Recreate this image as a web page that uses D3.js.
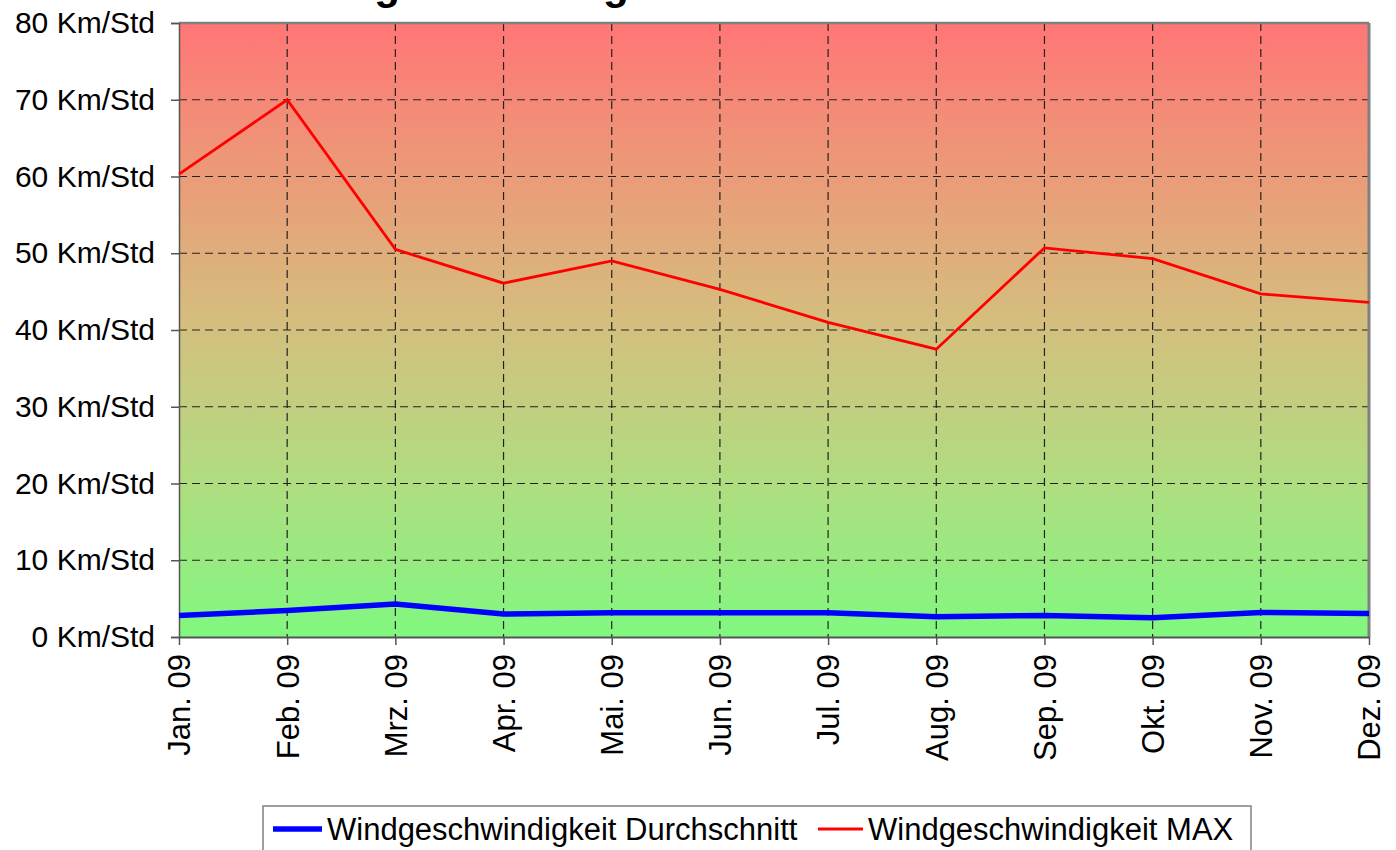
<!DOCTYPE html>
<html>
<head>
<meta charset="utf-8">
<script src="https://cdn.jsdelivr.net/npm/d3@7"></script>
<style>
  html, body { margin: 0; padding: 0; background: #fff; overflow: hidden; }
  text { font-family: "Liberation Sans", Arial, sans-serif; }
</style>
</head>
<body>
<div id="chart"></div>
<script>
// data
const months = ["Jan. 09", "Feb. 09", "Mrz. 09", "Apr. 09", "Mai. 09", "Jun. 09",
  "Jul. 09", "Aug. 09", "Sep. 09", "Okt. 09", "Nov. 09", "Dez. 09"];
const windAvg = [2.8, 3.45, 4.3, 3.0, 3.15, 3.15, 3.15, 2.65, 2.8, 2.5, 3.2, 3.05];
const windMax = [60.3, 70.0, 50.5, 46.1, 49.0, 45.3, 41.0, 37.5, 50.7, 49.3, 44.7, 43.6];
const yTicks = [0, 10, 20, 30, 40, 50, 60, 70, 80];
const seriesNames = ["Windgeschwindigkeit Durchschnitt", "Windgeschwindigkeit MAX"];

function drawWindChart() {
	let width = 1396, height = 850;
	let margin = {left: 179, right: 27, top: 23, bottom: 213};

	let svg = d3.select("#chart")
		.append("svg")
		.attr("width", width)
		.attr("height", height);

	let xScale = d3.scalePoint().domain(months).range([margin.left, width - margin.right]);
	let yScale = d3.scaleLinear().domain([0, 80]).range([height - margin.bottom, margin.top]);

	// background gradient (red at top, green at bottom)
	let grad = svg.append("defs").append("linearGradient")
		.attr("id", "bg").attr("x1", 0).attr("y1", 0).attr("x2", 0).attr("y2", 1);
	[["0%", "#ff7676"], ["25%", "#eb9b78"], ["50%", "#d3c07e"], ["75%", "#afdd80"], ["100%", "#80f880"]]
		.forEach(s => grad.append("stop").attr("offset", s[0]).attr("stop-color", s[1]));

	let x0 = xScale.range()[0], x1 = xScale.range()[1];
	let y0 = yScale(0), y1 = yScale(80);

	svg.append("rect")
		.attr("x", x0).attr("y", y1)
		.attr("width", x1 - x0).attr("height", y0 - y1)
		.attr("fill", "url(#bg)");

	// title, mostly cut off above the page (as in the original)
	svg.append("text")
		.attr("x", 272).attr("y", -1)
		.attr("font-size", 42).attr("font-weight", "bold")
		.text("Windgeschwindigkeit 2009");

	// grid
	svg.append("g").selectAll("line")
		.data(yTicks.filter(d => d > 0 && d < 80))
		.join("line")
		.attr("x1", x0).attr("x2", x1)
		.attr("y1", d => yScale(d)).attr("y2", d => yScale(d))
		.attr("stroke", "#222").attr("stroke-width", 1.2)
		.attr("stroke-dasharray", "8,5");
	svg.append("g").selectAll("line")
		.data(months.slice(1, -1))
		.join("line")
		.attr("x1", d => xScale(d)).attr("x2", d => xScale(d))
		.attr("y1", y1).attr("y2", y0)
		.attr("stroke", "#222").attr("stroke-width", 1.2)
		.attr("stroke-dasharray", "8,5");

	// frame
	svg.append("line").attr("x1", x0).attr("x2", x1).attr("y1", y1).attr("y2", y1)
		.attr("stroke", "#808080").attr("stroke-width", 2.5);
	svg.append("line").attr("x1", x1).attr("x2", x1).attr("y1", y1).attr("y2", y0)
		.attr("stroke", "#808080").attr("stroke-width", 3);

	// axes
	let yAxis = svg.append("g")
		.attr("transform", `translate(${x0},0)`)
		.call(d3.axisLeft(yScale).tickValues(yTicks).tickSize(8).tickPadding(16)
			.tickFormat(d => d + " Km/Std"));
	yAxis.select(".domain").attr("stroke", "#555").attr("stroke-width", 1.5);
	yAxis.selectAll(".tick line").attr("stroke", "#555").attr("stroke-width", 1.5);
	yAxis.selectAll("text").attr("font-size", 30).attr("fill", "#000")
		.attr("font-family", "'Liberation Sans', Arial, sans-serif");

	let xAxis = svg.append("g")
		.attr("transform", `translate(0,${y0})`)
		.call(d3.axisBottom(xScale).tickSize(8).tickPadding(10).tickSizeOuter(0));
	xAxis.select(".domain").attr("stroke", "#555").attr("stroke-width", 2);
	xAxis.selectAll(".tick line").attr("stroke", "#555").attr("stroke-width", 1.5);
	xAxis.selectAll("text")
		.attr("font-size", 31).attr("fill", "#000")
		.attr("font-family", "'Liberation Sans', Arial, sans-serif")
		.attr("text-anchor", "end")
		.attr("dy", "0.35em")
		.attr("transform", "translate(0,17) rotate(-90)")
		.attr("x", 0).attr("y", 0);

	// lines
	let line = d3.line()
		.x((d, i) => xScale(months[i]))
		.y(d => yScale(d));

	svg.append("path").datum(windMax)
		.attr("d", line)
		.attr("fill", "none").attr("stroke", "#ff0000").attr("stroke-width", 2.8);
	svg.append("path").datum(windAvg)
		.attr("d", line)
		.attr("fill", "none").attr("stroke", "#0000ff").attr("stroke-width", 5.5);

	// legend
	let legend = svg.append("g");
	legend.append("rect")
		.attr("x", 263).attr("y", 806).attr("width", 988).attr("height", 60)
		.attr("fill", "#fff").attr("stroke", "#808080").attr("stroke-width", 1.5);
	let items = [
		{name: seriesNames[0], color: "#0000ff", w: 5.5, lx: 273, tx: 327},
		{name: seriesNames[1], color: "#ff0000", w: 2.8, lx: 818, tx: 868}
	];
	items.forEach(it => {
		legend.append("line")
			.attr("x1", it.lx).attr("x2", it.tx - 5)
			.attr("y1", 829).attr("y2", 829)
			.attr("stroke", it.color).attr("stroke-width", it.w);
		legend.append("text")
			.attr("x", it.tx).attr("y", 840)
			.attr("font-size", 31)
			.text(it.name);
	});
}

drawWindChart();
</script>
</body>
</html>
